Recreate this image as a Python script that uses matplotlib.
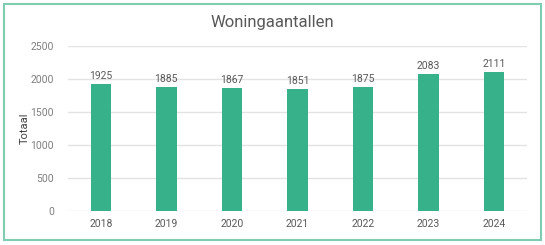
import matplotlib.pyplot as plt
from matplotlib.patches import Rectangle

years = ["2018", "2019", "2020", "2021", "2022", "2023", "2024"]
totals = [1925, 1885, 1867, 1851, 1875, 2083, 2111]
yticks = [0, 500, 1000, 1500, 2000, 2500]

plt.rcParams['font.family'] = ['Roboto', 'DejaVu Sans']

fig = plt.figure(figsize=(5.45, 2.45), dpi=100)
ax = fig.add_axes([68/545, 1 - 211/245, (527-68)/545, (211-46)/245])

bars = ax.bar(years, totals, width=0.31, color="#36b18a", zorder=3)
for b, v in zip(bars, totals):
    ax.text(b.get_x() + b.get_width()/2, v + 45, str(v), ha="center", va="bottom",
            fontsize=7.5, color="#595959")

ax.set_ylim(0, 2500)
ax.set_xlim(-0.5, len(years) - 0.5)
ax.set_yticks(yticks)
ax.yaxis.grid(True, color="#e3e3e3", lw=1, zorder=0)
for s in ax.spines.values():
    s.set_visible(False)
ax.tick_params(axis="y", length=0, labelsize=7.5, labelcolor="#7f7f7f", pad=10)
ax.tick_params(axis="x", length=0, labelsize=7.5, labelcolor="#595959", pad=6)
ax.set_ylabel("Totaal", fontsize=8, color="#404040")
ax.yaxis.set_label_coords(-0.084, 0.5)

fig.text(0.5, 1 - 23/245, "Woningaantallen", ha="center", va="center",
         fontsize=12, color="#595959")

fig.patches.append(Rectangle((3.5/545, 1 - 239.5/245), 537/545, 235/245,
                             transform=fig.transFigure, fill=False,
                             edgecolor="#7ecdb0", lw=1.5))

fig.savefig("out.png", dpi=100)
